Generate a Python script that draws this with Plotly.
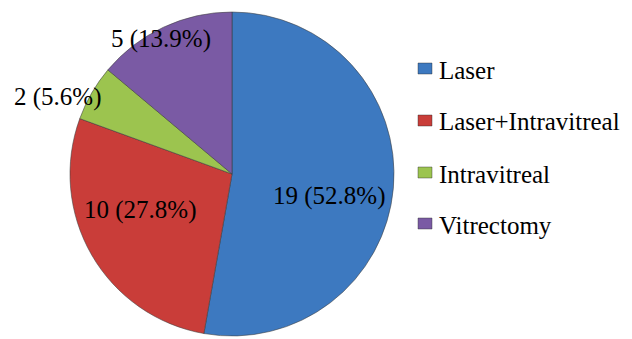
import plotly.graph_objects as go

# Treatment categories and patient counts
labels = ["Laser", "Laser+Intravitreal", "Intravitreal", "Vitrectomy"]
counts = [19, 10, 2, 5]
colors = ["#3d79c0", "#c93d39", "#9cc44f", "#7a5aa4"]

W, H = 632, 339
FONT = "Liberation Serif"

total = sum(counts)
slice_text = [f"{c} ({c / total * 100:.1f}%)" for c in counts]


def px(x):
    return x / W


def py(y):
    return 1 - y / H


# Pie placement: centre (232, 174), radius 162 px
cx, cy, r = 232, 174, 162

fig = go.Figure()

# Empty, hidden cartesian subplot underneath the pie
fig.add_trace(go.Scatter(x=[], y=[], showlegend=False, hoverinfo="skip"))

fig.add_trace(
    go.Pie(
        labels=labels,
        values=counts,
        sort=False,
        direction="clockwise",
        rotation=0,
        marker=dict(colors=colors, line=dict(color="rgba(60,60,60,0.55)", width=1)),
        textinfo="none",
        showlegend=False,
        hoverinfo="label+value+percent",
        domain=dict(x=[px(cx - r), px(cx + r)], y=[py(cy + r), py(cy - r)]),
    )
)

# Value labels for each slice
label_xy = [(329, 196), (140, 210), (57, 97), (161, 39)]
annotations = []
for txt, (x, y) in zip(slice_text, label_xy):
    annotations.append(
        dict(
            x=px(x), y=py(y), xref="paper", yref="paper",
            text=txt, showarrow=False,
            font=dict(family=FONT, size=25, color="black"),
            xanchor="center", yanchor="middle",
        )
    )

# Legend: coloured squares with category names
shapes = []
row_y = [68, 120, 172, 223]
for lab, col, yy in zip(labels, colors, row_y):
    shapes.append(
        dict(
            type="rect", xref="paper", yref="paper",
            x0=px(418), x1=px(432), y0=py(yy + 6), y1=py(yy - 5),
            fillcolor=col, line=dict(color="rgba(40,40,40,0.4)", width=1),
        )
    )
    annotations.append(
        dict(
            x=px(437), y=py(yy + 2), xref="paper", yref="paper",
            text=lab, showarrow=False,
            font=dict(family=FONT, size=25, color="black"),
            xanchor="left", yanchor="middle",
        )
    )

fig.update_layout(
    width=W, height=H,
    margin=dict(l=0, r=0, t=0, b=0),
    paper_bgcolor="white",
    plot_bgcolor="white",
    xaxis=dict(visible=False),
    yaxis=dict(visible=False),
    shapes=shapes,
    annotations=annotations,
)

fig.write_html("out.html")
